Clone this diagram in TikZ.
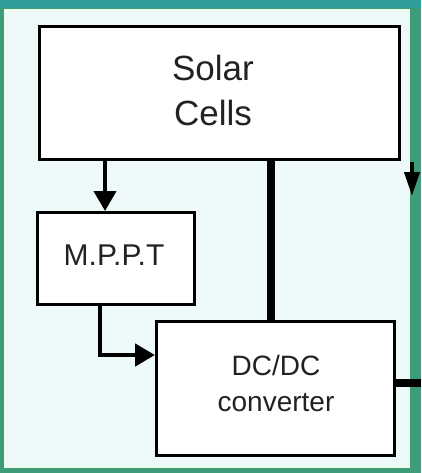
\documentclass[tikz,border=0pt]{standalone}
\usepackage{fontspec}
\setmainfont{Liberation Sans}
\usetikzlibrary{arrows.meta}
\definecolor{frameg}{HTML}{3E9C78}
\definecolor{frametop}{HTML}{2E9E9C}
\definecolor{bgc}{HTML}{EEFAFA}
\definecolor{txt}{HTML}{222222}
\begin{document}
\begin{tikzpicture}[x=1pt,y=-1pt,
  blk/.style={draw=black,fill=white,line width=3pt,inner sep=0pt,text=txt},
  conn/.style={line width=4.5pt,draw=black},
  bus/.style={line width=8pt,draw=black},
  tip/.style={-{Triangle[width=22pt,length=20pt]}}]
\useasboundingbox (0,0) rectangle (421,473);
% frame
\fill[frameg] (0,0) rectangle (421,473);
\fill[frametop] (0,0) rectangle (421,8);
\fill[bgc!60!green!20!white] (4,9) rectangle (410,468);
\fill[bgc] (6,11) rectangle (407,466);
% blocks
\node[blk,minimum width=360pt,minimum height=133pt,anchor=north west] (sc) at (38,25) {};
\node[font=\fontsize{35}{45}\selectfont,align=center,text=txt] (sct) at (213,90) {Solar\\Cells};
\node[blk,minimum width=157pt,minimum height=92pt,anchor=north west] (mp) at (36,211) {};
\node[font=\fontsize{30}{30}\selectfont,text=txt] (mpt) at (114,255) {M.P.P.T};
\node[blk,minimum width=238pt,minimum height=134pt,anchor=north west] (dc) at (155,320) {};
\node[font=\fontsize{28}{36}\selectfont,align=center,text=txt] (dct) at (276,383) {DC/DC\\converter};
% connectors
\draw[conn,line width=4pt,tip] (sc.south -| 105,0) -- (mp.north -| 105,0);
\coordinate (bend) at (100,355);
\draw[conn,tip] (mp.south -| bend) -- (bend) -- (bend -| dc.west);
\draw[bus] (sc.south -| 271,0) -- (dc.north -| 271,0);
\coordinate (outr) at (421,383);
\draw[bus] (dc.east |- outr) -- (outr);
% partial arrow at right border
\coordinate (ra1) at (412,162);
\coordinate (ra2) at (412,196);
\draw[line width=4pt,-{Triangle[width=15pt,length=24pt]}] (ra1) -- (ra2);
\end{tikzpicture}
\end{document}
